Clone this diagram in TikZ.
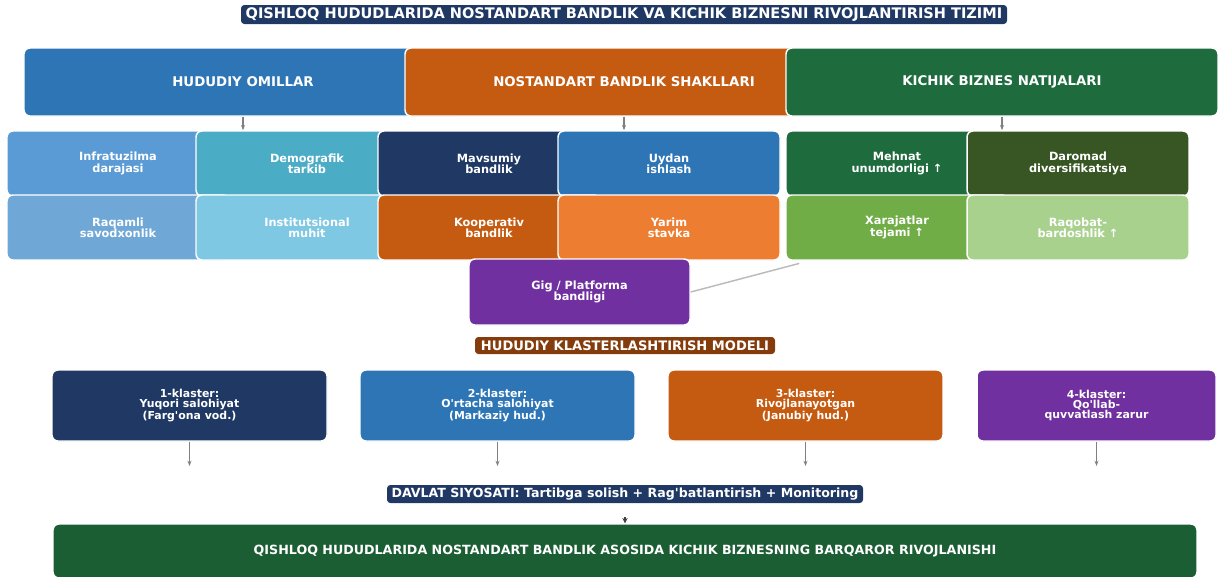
\documentclass[tikz,border=0pt]{standalone}
\usepackage{fontspec}
\setmainfont{DejaVu Sans}[Ligatures=TeXOff]
\usetikzlibrary{arrows.meta}
\definecolor{cNavy}{HTML}{1F3864}
\definecolor{cBlue}{HTML}{2E75B6}
\definecolor{cOrange}{HTML}{C55A11}
\definecolor{cGreen}{HTML}{1E6B3E}
\definecolor{cInfra}{HTML}{5B9BD5}
\definecolor{cDemo}{HTML}{4BACC6}
\definecolor{cRaq}{HTML}{6FA8D6}
\definecolor{cInst}{HTML}{7EC8E3}
\definecolor{cYarim}{HTML}{ED7D31}
\definecolor{cDarom}{HTML}{375623}
\definecolor{cXar}{HTML}{70AD47}
\definecolor{cRaqob}{HTML}{A9D18E}
\definecolor{cGig}{HTML}{7030A0}
\definecolor{cBrown}{HTML}{843C0C}
\definecolor{cBottom}{HTML}{1B5E34}
\definecolor{cArrow}{HTML}{808080}
\definecolor{cLine}{HTML}{BBBBBB}
\tikzset{
  box/.style={draw=white, line width=1.1pt, rounded corners=4.5pt, text=white, align=center, inner sep=0pt},
  hdr/.style={box, minimum width={438*0.75pt}, minimum height={68*0.75pt}, font=\fontsize{10}{12}\selectfont\bfseries},
  subbox/.style={box, minimum width={222*0.75pt}, minimum height={65*0.75pt}, font=\fontsize{8.5}{8.5}\selectfont\bfseries},
  clbox/.style={box, minimum width={275*0.75pt}, minimum height={71*0.75pt}, font=\fontsize{8.2}{7.5}\selectfont\bfseries},
  label/.style={text=white, inner sep=0pt, rounded corners=2.5pt, align=center},
  arr/.style={draw=cArrow, line width=0.8pt, -{Stealth[length=4pt,width=3pt]}},
}
\begin{document}
\begin{tikzpicture}[x=0.75pt,y=-0.75pt]
\useasboundingbox (0,0) rectangle (1219,576);

% title
\node[label, fill=cNavy, minimum width={766*0.75pt}, minimum height={19*0.75pt}, font=\fontsize{10.9}{12}\selectfont\bfseries] (title) at (624,14.5) {QISHLOQ HUDUDLARIDA NOSTANDART BANDLIK VA KICHIK BIZNESNI RIVOJLANTIRISH TIZIMI};

% headers
\node[hdr, fill=cBlue] (h1) at (243,82) {HUDUDIY OMILLAR};
\node[hdr, fill=cOrange] (h2) at (624,82) {NOSTANDART BANDLIK SHAKLLARI};
\node[hdr, fill=cGreen, minimum width={432*0.75pt}] (h3) at (1002,82) {KICHIK BIZNES NATIJALARI};

% sub boxes group 1
\node[subbox, fill=cInfra] (a1) at (118,163.5) {Infratuzilma\\darajasi};
\node[subbox, fill=cDemo] (a2) at (307,163.5) {Demografik\\tarkib};
\node[subbox, fill=cRaq] (a3) at (118,227.5) {Raqamli\\savodxonlik};
\node[subbox, fill=cInst] (a4) at (307,227.5) {Institutsional\\muhit};
% group 2
\node[subbox, fill=cNavy] (b1) at (489,163.5) {Mavsumiy\\bandlik};
\node[subbox, fill=cBlue] (b2) at (669,163.5) {Uydan\\ishlash};
\node[subbox, fill=cOrange] (b3) at (489,227.5) {Kooperativ\\bandlik};
\node[subbox, fill=cYarim] (b4) at (669,227.5) {Yarim\\stavka};
% group 3
\node[subbox, fill=cGreen] (c1) at (897,163.5) {Mehnat\\unumdorligi ↑};
\node[subbox, fill=cDarom] (c2) at (1078,163.5) {Daromad\\diversifikatsiya};
\node[subbox, fill=cXar] (c3) at (897,227.5) {Xarajatlar\\tejami ↑};
\node[subbox, fill=cRaqob] (c4) at (1078,227.5) {Raqobat-\\bardoshlik ↑};

% gig
\node[subbox, fill=cGig, minimum width={221*0.75pt}, minimum height={66*0.75pt}] (gig) at (579.5,292) {Gig / Platforma\\bandligi};
\draw[draw=cLine, line width=1.1pt] (gig.east) -- ([xshift=10.5pt,yshift=-2pt]c3.south west);

% header connectors
\draw[arr] (h1.south) -- (h1.south |- a2.north);
\draw[arr] (h2.south) -- (h2.south |- b1.north);
\draw[arr] (h3.south) -- (h3.south |- c2.north);

% section label
\node[label, fill=cBrown, minimum width={300*0.75pt}, minimum height={17*0.75pt}, font=\fontsize{9.8}{11}\selectfont\bfseries] (sect) at (625,345.5) {HUDUDIY KLASTERLASHTIRISH MODELI};

% clusters
\node[clbox, fill=cNavy] (k1) at (189.5,405.5) {1-klaster:\\Yuqori salohiyat\\(Farg'ona vod.)};
\node[clbox, fill=cBlue] (k2) at (497.5,405.5) {2-klaster:\\O'rtacha salohiyat\\(Markaziy hud.)};
\node[clbox, fill=cOrange] (k3) at (805.5,405.5) {3-klaster:\\Rivojlanayotgan\\(Janubiy hud.)};
\node[clbox, fill=cGig, minimum width={239*0.75pt}] (k4) at (1096.5,405.5) {4-klaster:\\Qo'llab-\\quvvatlash zarur};

\coordinate (e1) at (189.5,466);
\coordinate (e2) at (497.5,466);
\coordinate (e3) at (805.5,466);
\coordinate (e4) at (1096.5,466);
\draw[arr] (k1.south) -- (e1);
\draw[arr] (k2.south) -- (e2);
\draw[arr] (k3.south) -- (e3);
\draw[arr] (k4.south) -- (e4);

% policy
\node[label, fill=cNavy, minimum width={476*0.75pt}, minimum height={18*0.75pt}, font=\fontsize{9.45}{11}\selectfont\bfseries] (pol) at (625,494) {DAVLAT SIYOSATI: Tartibga solish + Rag'batlantirish + Monitoring};

% bottom
\node[box, fill=cBottom, minimum width={1144*0.75pt}, minimum height={54*0.75pt}, font=\fontsize{9.5}{11}\selectfont\bfseries] (res) at (625,551) {QISHLOQ HUDUDLARIDA NOSTANDART BANDLIK ASOSIDA KICHIK BIZNESNING BARQAROR RIVOJLANISHI};

\coordinate (d0) at (625,517);
\draw[draw=black!75, line width=0.8pt, -{Stealth[length=4pt,width=4pt]}] (d0) -- (res.north);
\end{tikzpicture}
\end{document}
